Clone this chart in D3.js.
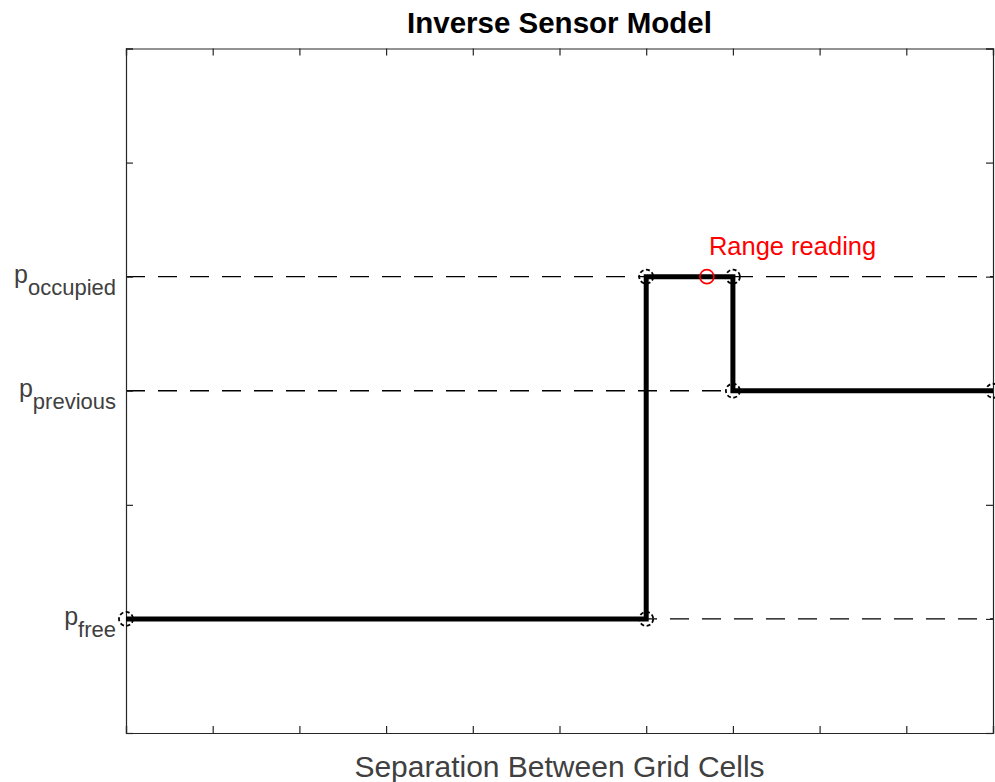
<!DOCTYPE html>
<html>
<head>
<meta charset="utf-8">
<script src="https://d3js.org/d3.v7.min.js"></script>
<style>
  html, body { margin: 0; padding: 0; background: #fff; }
  svg { display: block; font-family: "Liberation Sans", Arial, Helvetica, sans-serif; }
</style>
</head>
<body>
<script>
// ---- data ----
const stepX = [0, 6, 6, 7, 7, 10];
const stepY = [1, 1, 4, 4, 3, 3];
const refLevels = [4, 3, 1];
const yTickValues = [0, 1, 2, 3, 4, 5, 6];
const yTickMain = ["", "p", "", "p", "p", "", ""];
const yTickSub = ["", "free", "", "previous", "occupied", "", ""];
const xTickValues = [0, 1, 2, 3, 4, 5, 6, 7, 8, 9, 10];
const rangeReading = [6.7, 4];
const rangeLabel = "Range reading";
const rangeLabelPos = [6.7, 4.27];
const titleText = "Inverse Sensor Model";
const xLabelText = "Separation Between Grid Cells";
const xDomain = [0, 10];
const yDomain = [0, 6];

// ---- layout ----
const W = 995, H = 782;
const L = 126, R = 993, T = 48.5, B = 733;
const axisColor = "#262626";

const svg = d3.select("body").append("svg").attr("width", W).attr("height", H);

const x = d3.scaleLinear().domain(xDomain).range([L, R]);
const y = d3.scaleLinear().domain(yDomain).range([B, T]);

// dashed reference lines
svg.append("g").selectAll("line").data(refLevels).join("line")
  .attr("x1", x(xDomain[0])).attr("x2", x(xDomain[1]))
  .attr("y1", d => y(d)).attr("y2", d => y(d))
  .attr("stroke", "#000").attr("stroke-width", 1.3)
  .attr("stroke-dasharray", "19,13");

// axes (ticks inward, box)
const tickLen = 7;
const gB = svg.append("g").attr("transform", `translate(0,${B})`)
  .call(d3.axisBottom(x).tickValues(xTickValues).tickSize(-tickLen).tickFormat(""));
const gT = svg.append("g").attr("transform", `translate(0,${T})`)
  .call(d3.axisTop(x).tickValues(xTickValues).tickSize(-tickLen).tickFormat(""));
const gL = svg.append("g").attr("transform", `translate(${L},0)`)
  .call(d3.axisLeft(y).tickValues(yTickValues).tickSize(-tickLen).tickFormat(""));
const gR = svg.append("g").attr("transform", `translate(${R},0)`)
  .call(d3.axisRight(y).tickValues(yTickValues).tickSize(-tickLen).tickFormat(""));
[gB, gT, gL, gR].forEach(g => {
  g.selectAll("path.domain").attr("stroke", axisColor).attr("stroke-width", 1.2);
  g.selectAll(".tick line").attr("stroke", axisColor).attr("stroke-width", 1.2);
});

// y tick labels with subscripts
const labG = svg.append("g");
yTickValues.forEach((v, i) => {
  if (!yTickMain[i]) return;
  const t = labG.append("text")
    .attr("x", L - 10).attr("y", y(v) + 6)
    .attr("text-anchor", "end")
    .attr("fill", "#404040")
    .attr("font-size", 25);
  t.append("tspan").text(yTickMain[i]);
  t.append("tspan").attr("dy", 12).attr("font-size", 22).text(yTickSub[i]);
});

// step line
const pts = stepX.map((d, i) => [d, stepY[i]]);
svg.append("path")
  .datum(pts)
  .attr("d", d3.line().x(d => x(d[0])).y(d => y(d[1])))
  .attr("fill", "none").attr("stroke", "#000").attr("stroke-width", 5)
  .attr("stroke-linejoin", "miter").attr("stroke-linecap", "butt");

// markers
svg.append("g").selectAll("circle").data(pts).join("circle")
  .attr("cx", d => x(d[0])).attr("cy", d => y(d[1])).attr("r", 7)
  .attr("fill", "none").attr("stroke", "#000").attr("stroke-width", 1.8)
  .attr("stroke-dasharray", "4,2.5");

// range reading
svg.append("circle")
  .attr("cx", x(rangeReading[0])).attr("cy", y(rangeReading[1])).attr("r", 7)
  .attr("fill", "none").attr("stroke", "#ff0000").attr("stroke-width", 1.6);
svg.append("text")
  .attr("x", x(rangeLabelPos[0]) + 2).attr("y", y(rangeLabelPos[1]))
  .attr("dy", "0.35em")
  .attr("fill", "#ff0000").attr("font-size", 25.5)
  .text(rangeLabel);

// title
svg.append("text")
  .attr("x", (L + R) / 2).attr("y", 33)
  .attr("text-anchor", "middle")
  .attr("font-weight", "bold").attr("font-size", 29.5)
  .attr("fill", "#000")
  .text(titleText);

// x label
svg.append("text")
  .attr("x", (L + R) / 2).attr("y", 777)
  .attr("text-anchor", "middle")
  .attr("font-size", 30)
  .attr("fill", "#404040")
  .text(xLabelText);
</script>
</body>
</html>
